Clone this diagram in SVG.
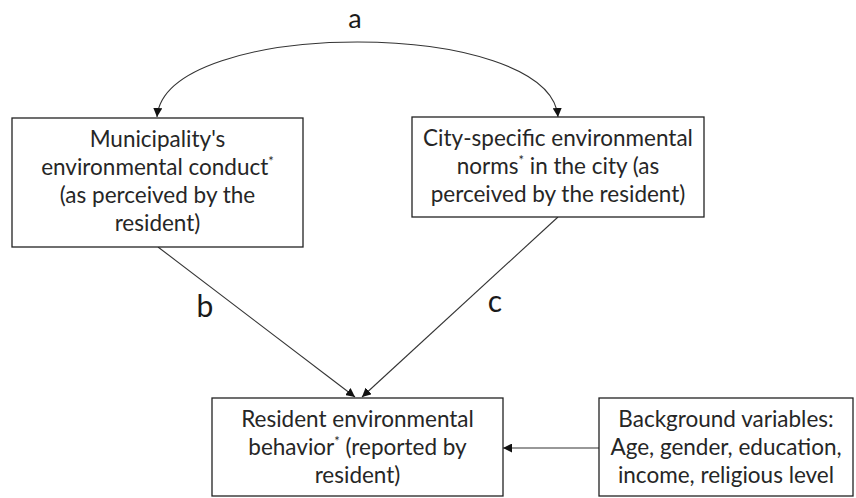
<svg xmlns="http://www.w3.org/2000/svg" width="856" height="498" viewBox="0 0 856 498">
  <defs>
    <marker id="arr" viewBox="0 0 10 10" refX="10" refY="5" markerWidth="9" markerHeight="9" markerUnits="userSpaceOnUse" orient="auto-start-reverse">
      <path d="M0,0 L10,5 L0,10 z" fill="#111"/>
    </marker>
    <style>
      .box { fill: #fff; stroke: #222; stroke-width: 1.3; }
      .t { font-family: Lato, "Liberation Sans", sans-serif; font-size: 22.5px; fill: #262626; text-anchor: middle; }
      .sup { font-size: 13px; }
      .lbl { font-family: Lato, "Liberation Sans", sans-serif; font-size: 30px; fill: #1a1a1a; text-anchor: middle; }
      .edge { fill: none; stroke: #333; stroke-width: 1.1; }
    </style>
  </defs>
  <rect width="856" height="498" fill="#fff"/>

  <g id="connectors">
    <path class="edge" d="M157,117 C165,17 550,17 558,117" marker-start="url(#arr)" marker-end="url(#arr)"/>
    <line class="edge" x1="158" y1="247" x2="355" y2="397" marker-end="url(#arr)"/>
    <line class="edge" x1="558" y1="217" x2="362" y2="397" marker-end="url(#arr)"/>
    <line class="edge" x1="599" y1="448" x2="503" y2="448" marker-end="url(#arr)"/>
    <text class="lbl" x="355" y="28" style="font-size:27px">a</text>
    <text class="lbl" x="205" y="317">b</text>
    <text class="lbl" x="495" y="312">c</text>
  </g>

  <g id="municipality">
    <rect class="box" x="12" y="118" width="291" height="129"/>
    <text class="t" x="157.5" y="147">Municipality's</text>
    <text class="t" x="157.5" y="175">environmental conduct<tspan class="sup" dy="-9">*</tspan></text>
    <text class="t" x="157.5" y="203">(as perceived by the</text>
    <text class="t" x="157.5" y="231">resident)</text>
  </g>

  <g id="norms">
    <rect class="box" x="412" y="117" width="292" height="100"/>
    <text class="t" x="558" y="146">City-specific environmental</text>
    <text class="t" x="558" y="174">norms<tspan class="sup" dy="-9">*</tspan><tspan dy="9"> in the city (as</tspan></text>
    <text class="t" x="558" y="202">perceived by the resident)</text>
  </g>

  <g id="behavior">
    <rect class="box" x="212" y="398" width="291" height="98"/>
    <text class="t" x="357.5" y="427">Resident environmental</text>
    <text class="t" x="357.5" y="455">behavior<tspan class="sup" dy="-9">*</tspan><tspan dy="9"> (reported by</tspan></text>
    <text class="t" x="357.5" y="483">resident)</text>
  </g>

  <g id="background">
    <rect class="box" x="599" y="398" width="254" height="98"/>
    <text class="t" x="726" y="427">Background variables:</text>
    <text class="t" x="726" y="455">Age, gender, education,</text>
    <text class="t" x="726" y="483">income, religious level</text>
  </g>
</svg>
